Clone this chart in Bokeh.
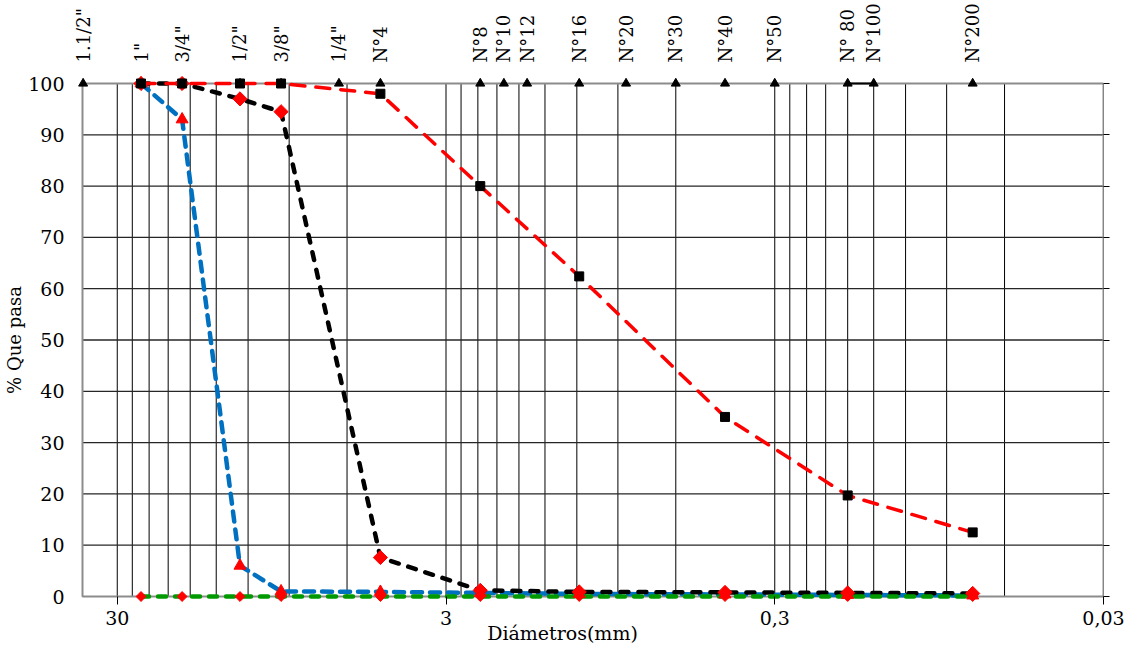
import math
from bokeh.plotting import figure
from bokeh.models import Range1d, LogAxis, LinearAxis, FixedTicker
from bokeh.embed import file_html
from bokeh.resources import INLINE

# Sieve openings (mm) and their names, shown along the top
sieve_mm = [38.1, 25.4, 19.05, 12.7, 9.525, 6.35, 4.75, 2.36, 2.0, 1.7,
            1.18, 0.85, 0.6, 0.425, 0.3, 0.18, 0.15, 0.075]
sieve_names = ['1.1/2"', '1"', '3/4"', '1/2"', '3/8"', '1/4"', 'N°4', 'N°8', 'N°10', 'N°12',
               'N°16', 'N°20', 'N°30', 'N°40', 'N°50', 'N° 80', 'N°100', 'N°200']

# Sieves used in the grading tests
diam_mm = [25.4, 19.05, 12.7, 9.525, 4.75, 2.36, 1.18, 0.425, 0.18, 0.075]

# % passing for each sample
pasa_arena = [100, 100, 100, 100, 98.0, 80.0, 62.4, 35.0, 19.7, 12.5]
pasa_grava_1 = [100, 100, 97.0, 94.5, 7.6, 1.2, 0.9, 0.8, 0.7, 0.6]
pasa_grava_2 = [100, 93.0, 6.0, 1.0, 0.9, 0.7, 0.5, 0.4, 0.3, 0.2]
pasa_grava_3 = [0, 0, 0, 0, 0, 0, 0, 0, 0, 0]

x_ticks = [30, 3, 0.3, 0.03]
x_tick_labels = ["30", "3", "0,3", "0,03"]
y_ticks = list(range(0, 101, 10))

FONT = "DejaVu Serif"
GRAY = "#8c8c8c"

# Visible diameter span and plot box size; the frame gets a small margin
# around the box so that markers sitting on its edges are drawn whole.
X_LO, X_HI = 38.27, 0.03
BOX_W, BOX_H = 1021, 513
PAD_L, PAD_T, PAD_B = 10, 8, 8
dec_px = BOX_W / math.log10(X_LO / X_HI)
px_per_pct = BOX_H / 100.0

p = figure(width=1132, height=648, x_axis_type="log",
           x_range=Range1d(X_LO * 10 ** (PAD_L / dec_px), X_HI),
           y_range=Range1d(-PAD_B / px_per_pct, 100 + PAD_T / px_per_pct),
           output_backend="svg", toolbar_location=None,
           min_border_left=72, min_border_right=29, min_border_top=75, min_border_bottom=44)
p.outline_line_color = None
p.background_fill_color = "white"
p.border_fill_color = "white"
p.xgrid.visible = False
p.ygrid.visible = False

# Grid inside the box: log subdivisions of the 0.03-30 mm decades, every 10 %
grid_x = [m * 3 * 10.0 ** n for n in range(-2, 2) for m in range(1, 10) if m * 3 * 10.0 ** n < X_LO]
grid_y = y_ticks[1:-1]
p.segment(x0=grid_x, y0=[0] * len(grid_x), x1=grid_x, y1=[100] * len(grid_x),
          line_color="black", line_width=1)
p.segment(x0=[X_LO] * len(grid_y), y0=grid_y, x1=[X_HI] * len(grid_y), y1=grid_y,
          line_color="#262626", line_width=1.3)
p.quad(left=[X_LO], right=[X_HI], bottom=[0], top=[100], fill_color=None,
       line_color=GRAY, line_width=2)

# Bottom axis: decade values
xa = p.xaxis[0]
xa.ticker = FixedTicker(ticks=x_ticks)
xa.major_label_overrides = dict(zip(x_ticks, x_tick_labels))
xa.minor_tick_line_color = None
xa.major_tick_in = PAD_B
xa.major_tick_out = 0
xa.major_tick_line_color = "black"
xa.major_label_standoff = 6
xa.axis_line_color = None
xa.major_label_text_font = FONT
xa.major_label_text_font_size = "19px"
xa.major_label_text_color = "black"

# Second bottom axis carrying the horizontal title, a little left of centre
title_x = X_LO / 10 ** (480 / dec_px)
xt = LogAxis(ticker=FixedTicker(ticks=[title_x]),
             major_label_overrides={title_x: "Diámetros(mm)"},
             major_tick_line_color=None, minor_tick_line_color=None, axis_line_color=None,
             major_label_standoff=-12, major_label_text_font=FONT,
             major_label_text_font_size="19px", major_label_text_color="black")
p.add_layout(xt, "below")

# Left axis
ya = p.yaxis[0]
ya.ticker = FixedTicker(ticks=y_ticks)
ya.minor_tick_line_color = None
ya.major_tick_line_color = None
ya.major_label_standoff = 2
ya.axis_line_color = None
ya.major_label_text_font = FONT
ya.major_label_text_font_size = "19px"
ya.major_label_text_color = "black"
ya.axis_label = "% Que pasa"
ya.axis_label_text_font = FONT
ya.axis_label_text_font_style = "normal"
ya.axis_label_text_font_size = "18px"
ya.axis_label_text_color = "black"
ya.axis_label_standoff = 0

# Right side: short outward ticks
ra = LinearAxis(ticker=FixedTicker(ticks=y_ticks), major_label_text_font_size="0px",
                major_tick_in=0, major_tick_out=6, major_tick_line_color="black",
                minor_tick_line_color=None, axis_line_color=None)
p.add_layout(ra, "right")

# Sieve names along the top
ta = LogAxis(ticker=FixedTicker(ticks=sieve_mm),
             major_label_overrides=dict(zip(sieve_mm, sieve_names)),
             major_label_orientation=math.pi / 2,
             major_tick_line_color=None, minor_tick_line_color=None,
             axis_line_color=None, major_label_standoff=7,
             major_label_text_font=FONT, major_label_text_font_size="18px",
             major_label_text_color="black")
p.add_layout(ta, "above")

# Sieve markers on the 100 % line
p.scatter(sieve_mm, [100] * len(sieve_mm), marker="triangle", size=9, color="black")
p.line(sieve_mm[15:17], [100, 100], line_color="black", line_width=2)

# Grading curves
p.line(diam_mm, pasa_grava_2, line_color="#0070C0", line_width=4.5, line_dash="10 8", line_cap="round")
p.line(diam_mm, pasa_grava_1, line_color="black", line_width=4.5, line_dash="8 10", line_cap="round")
p.line(diam_mm, pasa_grava_3, line_color="#009A00", line_width=4.5, line_dash="8 9", line_cap="round")
p.line(diam_mm, pasa_arena, line_color="#FF0000", line_width=3.5, line_dash="14 11", line_cap="round")

p.scatter(diam_mm, pasa_grava_3, marker="square", angle=math.pi / 4, size=7, color="#FF0000")
p.scatter(diam_mm, pasa_grava_1, marker="square", angle=math.pi / 4, size=10, color="#FF0000")
p.scatter(diam_mm, pasa_grava_2, marker="triangle", size=12, color="#FF0000")
p.scatter(diam_mm, pasa_arena, marker="square", size=9, color="black")

open("out.html", "w").write(file_html(p, INLINE))
